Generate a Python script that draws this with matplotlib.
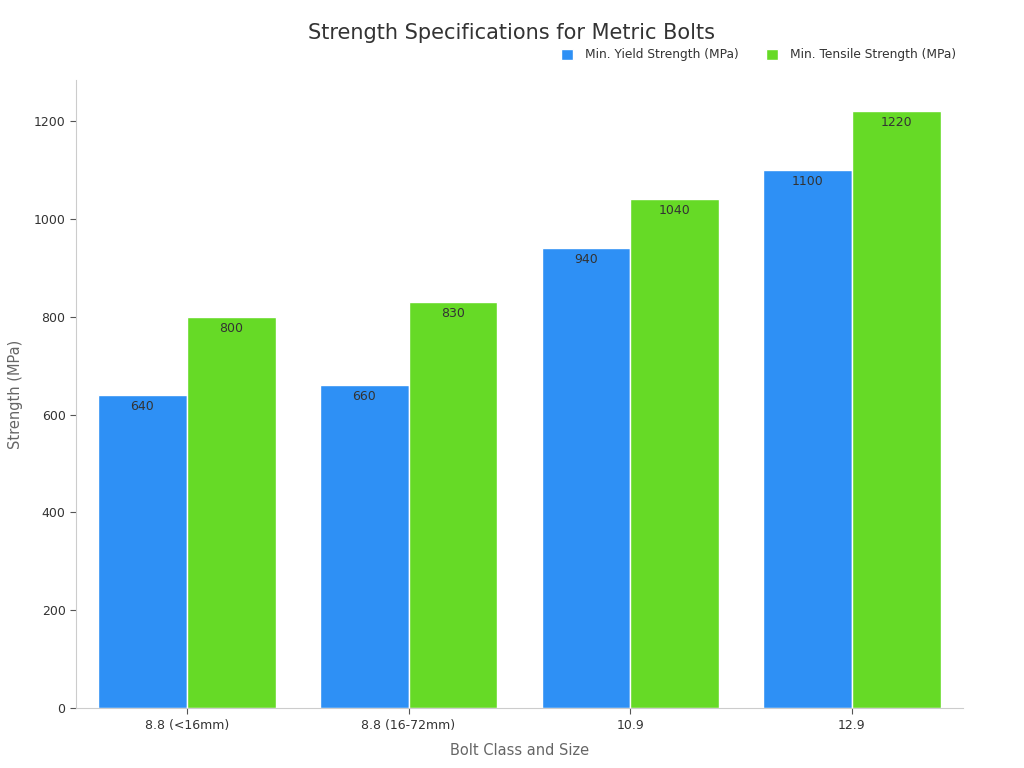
import matplotlib.pyplot as plt
import numpy as np

plt.rcParams['font.family'] = ['DejaVu Sans']

# data
categories = ['8.8 (<16mm)', '8.8 (16-72mm)', '10.9', '12.9']
yield_strength = [640, 660, 940, 1100]
tensile_strength = [800, 830, 1040, 1220]
series_names = ['Min. Yield Strength (MPa)', 'Min. Tensile Strength (MPa)']

fig = plt.figure(figsize=(10.24, 7.68), dpi=100)
ax = fig.add_axes([0.0742, 0.078, 0.866, 0.818])

x = np.arange(len(categories))
w = 0.4
b1 = ax.bar(x - w / 2, yield_strength, w, color='#2E90F5', edgecolor='white',
            linewidth=1, label=series_names[0])
b2 = ax.bar(x + w / 2, tensile_strength, w, color='#66DA26', edgecolor='white',
            linewidth=1, label=series_names[1])

for bars in (b1, b2):
    ax.bar_label(bars, padding=-13, color='#333333', fontsize=9)

ax.set_xlim(-0.5, len(categories) - 0.5)
ax.set_ylim(0, 1284)
ax.set_xticks(x)
ax.set_xticklabels(categories)
ax.set_yticks(range(0, 1201, 200))
ax.tick_params(labelsize=9, colors='#333333')
ax.tick_params(axis='both', color='#555555', length=4)

for s in ['top', 'right']:
    ax.spines[s].set_visible(False)
for s in ['left', 'bottom']:
    ax.spines[s].set_color('#cccccc')

ax.set_xlabel('Bolt Class and Size', fontsize=10.5, color='#666666', labelpad=8)
ax.set_ylabel('Strength (MPa)', fontsize=10.5, color='#666666', labelpad=8)

fig.text(0.5, 0.957, 'Strength Specifications for Metric Bolts', ha='center',
         va='center', fontsize=15, color='#333333')
ax.legend(loc='center right', bbox_to_anchor=(1.005, 1.04), ncol=2, frameon=False,
          fontsize=8.8, handlelength=1.0, handleheight=1.0, handletextpad=1.0,
          columnspacing=2.2, labelcolor='#333333')

fig.savefig('out.png', dpi=100)
